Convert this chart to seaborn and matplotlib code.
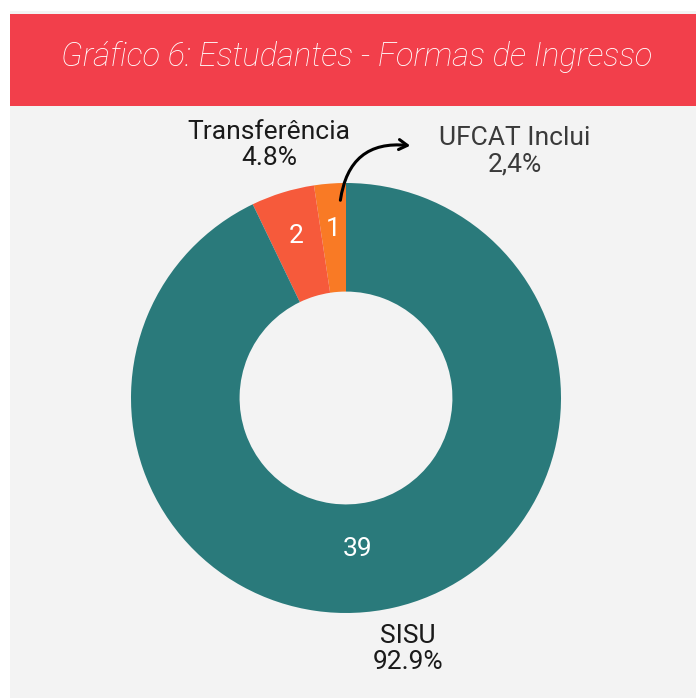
import matplotlib.pyplot as plt
import seaborn as sns
from matplotlib.patches import Rectangle

# data
categories = ["UFCAT Inclui", "Transferência", "SISU"]
counts = [1, 2, 39]
pct_labels = ["2,4%", "4.8%", "92.9%"]
colors = ["#F97A25", "#F65A3B", "#2A7A7B"]

sns.set_theme(style="white")
plt.rcParams["font.family"] = ["Roboto", "DejaVu Sans"]

W, H = 696, 698
fig = plt.figure(figsize=(W / 100, H / 100), dpi=100, facecolor="white")

# gray panel and red title band
fig.patches.append(Rectangle((10 / W, 0), 1, 1 - 11 / H, transform=fig.transFigure,
                             facecolor="#F3F3F3", edgecolor="none", zorder=-2))
fig.patches.append(Rectangle((10 / W, 1 - 106 / H), 1, 92 / H, transform=fig.transFigure,
                             facecolor="#F23F4B", edgecolor="none", zorder=-1))
fig.text(357 / W, 1 - 57 / H, "Gráfico 6: Estudantes - Formas de Ingresso",
         color="white", fontsize=23.5, fontstyle="italic", fontweight="light",
         ha="center", va="center")

# donut
cx, cy, R = 346, 398, 215
ax = fig.add_axes([(cx - R) / W, (H - cy - R) / H, 2 * R / W, 2 * R / H], zorder=2)
ax.set_facecolor("none")
total = sum(counts)
wedges, texts, autotexts = ax.pie(
    counts, colors=colors, startangle=90, counterclock=True, radius=1,
    wedgeprops=dict(width=0.505, edgecolor="none"),
    autopct=lambda p: f"{round(p * total / 100)}", pctdistance=0.79,
    textprops=dict(color="white", fontsize=19))
autotexts[2].set_position((0.056, -0.70))
ax.set_xlim(-1, 1)
ax.set_ylim(-1, 1)
ax.set_aspect("equal")
ax.axis("off")

def px(x, y):
    return ((x - cx) / R, (cy - y) / R)

label_pos = [(515, 151), (269, 145), (408, 649)]
label_colors = ["#3a3a3a", "#1a1a1a", "#1a1a1a"]
for cat, pl, (lx, ly), c in zip(categories, pct_labels, label_pos, label_colors):
    ax.text(*px(lx, ly), f"{cat}\n{pl}", ha="center", va="center", fontsize=19,
            color=c, linespacing=1.12, clip_on=False)

# arrow from the small slice to its label
ax.annotate("", xy=px(413, 146), xytext=px(340, 203), annotation_clip=False,
            arrowprops=dict(arrowstyle="->,head_length=0.5,head_width=0.3", color="black",
                            lw=2.2, connectionstyle="arc3,rad=-0.5"))

fig.savefig("out.png", dpi=100, facecolor="white")
